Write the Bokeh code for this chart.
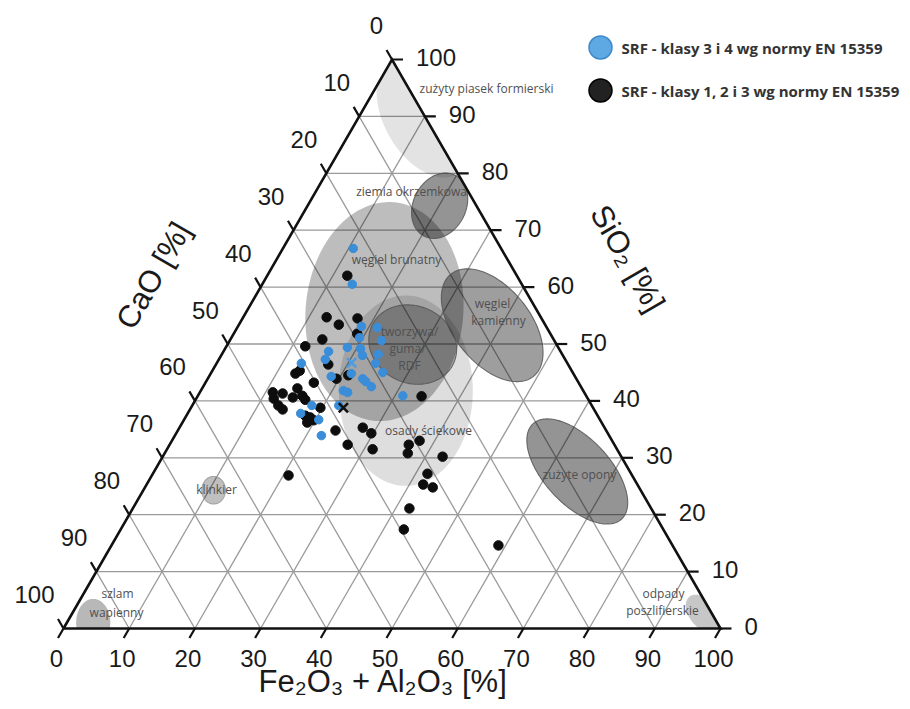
import numpy as np
from bokeh.plotting import figure
from bokeh.models import Range1d
from bokeh.core.properties import value
from bokeh.embed import file_html
from bokeh.resources import INLINE

# ---------------- data ----------------
ticks = [0, 10, 20, 30, 40, 50, 60, 70, 80, 90, 100]
tick_labels = ["0", "10", "20", "30", "40", "50", "60", "70", "80", "90", "100"]

title_bottom = "Fe₂O₃ + Al₂O₃ [%]"
title_left = "CaO [%]"
title_right = "SiO₂ [%]"

series_names = ["SRF - klasy 3 i 4 wg normy EN 15359",
                "SRF - klasy 1, 2 i 3 wg normy EN 15359"]

# SRF classes 3 and 4 (blue)
blue_feal = [10.7, 13.7, 18.8, 21.3, 19.5, 23.1, 16.0, 18.5, 20.6, 21.5, 23.8, 12.9, 16.2, 24.2,
             26.1, 18.6, 21.4, 23.6, 24.3, 25.6, 21.7, 22.5, 31.2, 18.2, 22.3, 17.2, 20.5, 22.3]
blue_sio2 = [66.8, 60.5, 53.1, 52.9, 51.1, 50.6, 48.7, 49.4, 49.2, 48.0, 48.2, 46.6, 47.3, 46.6,
             45.0, 44.3, 44.8, 43.9, 43.4, 42.5, 41.8, 41.5, 40.9, 39.2, 39.2, 37.8, 36.7, 33.9]
blue_cao = [22.5, 25.8, 28.1, 25.8, 29.4, 26.3, 35.3, 32.1, 30.2, 30.5, 28.0, 40.5, 36.5, 29.2,
            28.9, 37.1, 33.8, 32.5, 32.3, 31.9, 36.5, 36.0, 27.9, 42.6, 38.5, 45.0, 42.8, 43.8]
blue_mean = (20.5, 46.7, 32.8)   # feal, sio2, cao

# SRF classes 1, 2 and 3 (black)
black_feal = [12.2, 12.7, 15.2, 17.5, 18.8, 14.0, 12.0, 17.1, 12.9, 13.3, 21.1, 19.6, 16.5, 11.1,
              11.8, 12.7, 14.5, 14.6, 15.9, 16.7, 13.1, 14.1, 19.7, 18.1, 19.0, 19.8, 19.0, 24.0,
              27.9, 29.7, 27.1, 31.3, 34.1, 37.7, 36.4, 37.0, 42.6, 20.8, 41.8, 42.1, 43.8, 42.1,
              43.1, 58.9]
black_sio2 = [62.0, 54.7, 53.4, 54.5, 51.8, 50.8, 49.6, 46.4, 44.8, 45.3, 44.5, 43.9, 43.2, 41.5,
              40.4, 41.3, 42.2, 40.6, 40.9, 40.2, 39.2, 38.5, 38.8, 37.4, 37.1, 36.6, 36.2, 34.8,
              35.3, 34.3, 32.3, 31.5, 40.8, 33.0, 32.3, 30.8, 30.2, 26.9, 27.2, 25.3, 24.8, 21.1,
              17.4, 14.6]
black_cao = [25.8, 32.6, 31.4, 28.0, 29.4, 35.2, 38.4, 36.5, 42.3, 41.4, 34.4, 36.5, 40.3, 47.4,
             47.8, 46.0, 43.3, 44.8, 43.2, 43.1, 47.7, 47.4, 41.5, 44.5, 43.9, 43.6, 44.8, 41.2,
             36.8, 36.0, 40.6, 37.2, 25.1, 29.3, 31.3, 32.2, 27.2, 52.3, 31.0, 32.6, 31.4, 36.8,
             39.5, 26.5]
black_mean = (23.2, 38.8, 38.0)

# fuel / waste fields (ellipses: centre Fe2O3+Al2O3, SiO2; semi-axes in %, angle in degrees)
region_names = ["osady ściekowe", "węgiel brunatny", "zużyty piasek formierski", "ziemia okrzemkowa",
                "węgiel kamienny", "tworzywa/guma/RDF", "zużyte opony", "klinkier",
                "szlam wapienny", "odpady poszlifierskie"]
region_feal = [31.2, 21.0, 10.0, 20.1, 38.6, 28.2, 64.4, 10.7, 4.0, 96.1]
region_sio2 = [41.8, 55.7, 89.9, 74.3, 53.3, 49.9, 27.6, 24.3, 1.05, 2.6]
region_a = [14.5, 16.7, 10.05, 5.2, 10.0, 6.85, 9.9, 2.1, 3.6, 3.35]
region_b = [10.2, 12.0, 6.1, 4.0, 5.8, 5.86, 5.0, 1.8, 2.6, 2.1]
region_angle = [90, 85, -60, 63, -51, -25, -47, 90, 90, -50]

# ---------------- styles ----------------
region_style = {
    "osady ściekowe": dict(alpha=0.13, line=None),
    "węgiel brunatny": dict(alpha=0.26, line=None),
    "zużyty piasek formierski": dict(alpha=0.11, line=None),
    "ziemia okrzemkowa": dict(alpha=0.42, line="#555555"),
    "węgiel kamienny": dict(alpha=0.38, line="#555555"),
    "tworzywa/guma/RDF": dict(alpha=0.26, line="#555555"),
    "zużyte opony": dict(alpha=0.42, line="#555555"),
    "klinkier": dict(alpha=0.25, line="#999999"),
    "szlam wapienny": dict(alpha=0.28, line=None),
    "odpady poszlifierskie": dict(alpha=0.22, line=None),
}

SC = 6.57                      # px per percent unit
W, H = 908, 708
X0PX, Y0PX = 63, 628           # pixel of ternary origin inside the figure
SQ3 = np.sqrt(3) / 2


def cart(feal, sio2, cao):
    feal = np.asarray(feal, float)
    sio2 = np.asarray(sio2, float)
    cao = np.asarray(cao, float)
    tot = feal + sio2 + cao
    f = 100 * feal / tot
    s = 100 * sio2 / tot
    return f + s / 2, s * SQ3


def pg(px, py):
    """page pixel -> data units (layout helper for annotations)"""
    return (px - X0PX) / SC, (Y0PX - py) / SC


TRI = [(0.0, 0.0), (100.0, 0.0), (50.0, 100 * SQ3)]


def clip_to_triangle(pts):
    out = list(pts)
    for i in range(3):
        a = TRI[i]
        b = TRI[(i + 1) % 3]
        inp = out
        out = []
        if not inp:
            break

        def side(p):
            return (b[0] - a[0]) * (p[1] - a[1]) - (b[1] - a[1]) * (p[0] - a[0])

        for j in range(len(inp)):
            cur = inp[j]
            prev = inp[j - 1]
            dc, dp = side(cur), side(prev)
            if dc >= 0:
                if dp < 0:
                    t = dp / (dp - dc)
                    out.append((prev[0] + t * (cur[0] - prev[0]), prev[1] + t * (cur[1] - prev[1])))
                out.append(cur)
            elif dp >= 0:
                t = dp / (dp - dc)
                out.append((prev[0] + t * (cur[0] - prev[0]), prev[1] + t * (cur[1] - prev[1])))
    return out


p = figure(width=W, height=H, output_backend="svg", toolbar_location=None,
           x_range=Range1d(-X0PX / SC, (W - X0PX) / SC),
           y_range=Range1d(-(H - Y0PX) / SC, Y0PX / SC),
           x_axis_location=None, y_axis_location=None, min_border=0)
p.grid.visible = False
p.outline_line_color = None
p.background_fill_color = "white"

# ---------- grid ----------
gx0, gy0, gx1, gy1 = [], [], [], []
for k in ticks[1:-1]:
    for (a0, a1) in [((0, k, 100 - k), (100 - k, k, 0)),
                     ((k, 0, 100 - k), (k, 100 - k, 0)),
                     ((0, 100 - k, k), (100 - k, 0, k))]:
        x0, y0 = cart(*a0)
        x1, y1 = cart(*a1)
        gx0.append(float(x0)); gy0.append(float(y0)); gx1.append(float(x1)); gy1.append(float(y1))
p.segment(gx0, gy0, gx1, gy1, line_color="#9a9a9a", line_width=1.3)

# ---------- regions ----------
t = np.linspace(0, 2 * np.pi, 181)[:-1]
for name, fe, si, a, b, ang in zip(region_names, region_feal, region_sio2, region_a, region_b, region_angle):
    cx, cy = cart(fe, si, 100 - fe - si)
    th = np.deg2rad(ang)
    ex = cx + a * np.cos(t) * np.cos(th) - b * np.sin(t) * np.sin(th)
    ey = cy + a * np.cos(t) * np.sin(th) + b * np.sin(t) * np.cos(th)
    poly = clip_to_triangle(list(zip(ex, ey)))
    st = region_style[name]
    p.patch([q[0] for q in poly], [q[1] for q in poly], fill_color="black", fill_alpha=st["alpha"],
            line_color=st["line"] if st["line"] else None, line_width=1.1, line_alpha=0.85)

# ---------- triangle & ticks ----------
p.line([q[0] for q in TRI] + [TRI[0][0]], [q[1] for q in TRI] + [TRI[0][1]],
       line_color="#111111", line_width=2.6, line_join="miter")

L = 11 / SC
tx0, ty0, tx1, ty1 = [], [], [], []
bx, by = cart(ticks, [0] * len(ticks), [100 - v for v in ticks])
rx, ry = cart([100 - v for v in ticks], ticks, [0] * len(ticks))
lx, ly = cart([0] * len(ticks), [100 - v for v in ticks], ticks)
for i in range(len(ticks)):
    tx0 += [bx[i], rx[i], lx[i]]
    ty0 += [by[i], ry[i], ly[i]]
    tx1 += [bx[i] - 0.5 * L, rx[i] + L, lx[i] - 0.5 * L]
    ty1 += [by[i] - SQ3 * L, ry[i], ly[i] + SQ3 * L]
p.segment(tx0, ty0, tx1, ty1, line_color="#111111", line_width=2.2)

tick_font = value("Liberation Sans")
p.text(x=list(bx - 7 / SC), y=[-30 / SC] * len(ticks), text=tick_labels, text_font=tick_font,
       text_font_size="24px", text_align="center", text_baseline="middle", text_color="#1a1a1a")
p.text(x=list(rx + 24 / SC), y=list(ry + 2 / SC), text=tick_labels, text_font=tick_font,
       text_font_size="24px", text_align="left", text_baseline="middle", text_color="#1a1a1a")
p.text(x=list(lx - 9 / SC), y=list(ly + 34 / SC), text=tick_labels, text_font=tick_font,
       text_font_size="24px", text_align="right", text_baseline="middle", text_color="#1a1a1a")

# axis titles
x, y = pg(153, 275)
p.text(x=[x], y=[y], text=[title_left], angle=np.pi / 3, text_font=tick_font, text_font_size="31px",
       text_align="center", text_baseline="middle", text_color="#1a1a1a")
x, y = pg(627, 258)
p.text(x=[x], y=[y], text=[title_right], angle=-np.pi / 3, text_font=tick_font, text_font_size="31px",
       text_align="center", text_baseline="middle", text_color="#1a1a1a")
x, y = pg(383, 681)
p.text(x=[x], y=[y], text=[title_bottom], text_font=tick_font, text_font_size="31px",
       text_align="center", text_baseline="middle", text_color="#1a1a1a")

# region labels
lab_txt = ["zużyty piasek formierski", "ziemia okrzemkowa", "węgiel brunatny", "tworzywa/", "guma/", "RDF",
           "węgiel", "kamienny", "osady ściekowe", "zużyte opony", "klinkier", "szlam", "wapienny",
           "odpady", "poszlifierskie"]
lab_px = [(486, 88), (411, 191), (396, 259), (409, 331), (407, 348), (409, 365), (492, 303), (498, 320),
          (428, 430), (579, 474), (216, 489), (117, 593), (116, 612), (663, 593), (662, 610)]
lab_xy = [pg(*q) for q in lab_px]
p.text(x=[q[0] for q in lab_xy], y=[q[1] for q in lab_xy], text=lab_txt, text_font=value("Open Sans"),
       text_font_size="12px", text_align="center", text_baseline="middle", text_color="#505050")

# ---------- points ----------
x, y = cart(black_feal, black_sio2, black_cao)
p.scatter(x, y, size=9.5, fill_color="#0d0d0d", line_color="#0d0d0d")
x, y = cart(blue_feal, blue_sio2, blue_cao)
p.scatter(x, y, size=8.5, fill_color="#3a8dd8", line_color="#3a8dd8")
x, y = cart(*blue_mean)
p.scatter([x], [y], marker="x", size=13, line_color="#4d9be2", line_width=2.6)
x, y = cart(*black_mean)
p.scatter([x], [y], marker="x", size=13, line_color="#111111", line_width=2.6)

# ---------- legend ----------
for i, (col, edge) in enumerate([("#5ea8e4", "#3f88c8"), ("#222222", "#000000")]):
    cx, cy = pg(600, 47 + 43 * i)
    p.scatter([cx], [cy], size=23, fill_color=col, line_color=edge, line_width=1.5)
    tx, ty = pg(621, 47 + 43 * i)
    p.text(x=[tx], y=[ty], text=[series_names[i]], text_font=value("Open Sans"), text_font_style="bold",
           text_font_size="15px", text_align="left", text_baseline="middle", text_color="#333333")

open("out.html", "w").write(file_html(p, INLINE))
